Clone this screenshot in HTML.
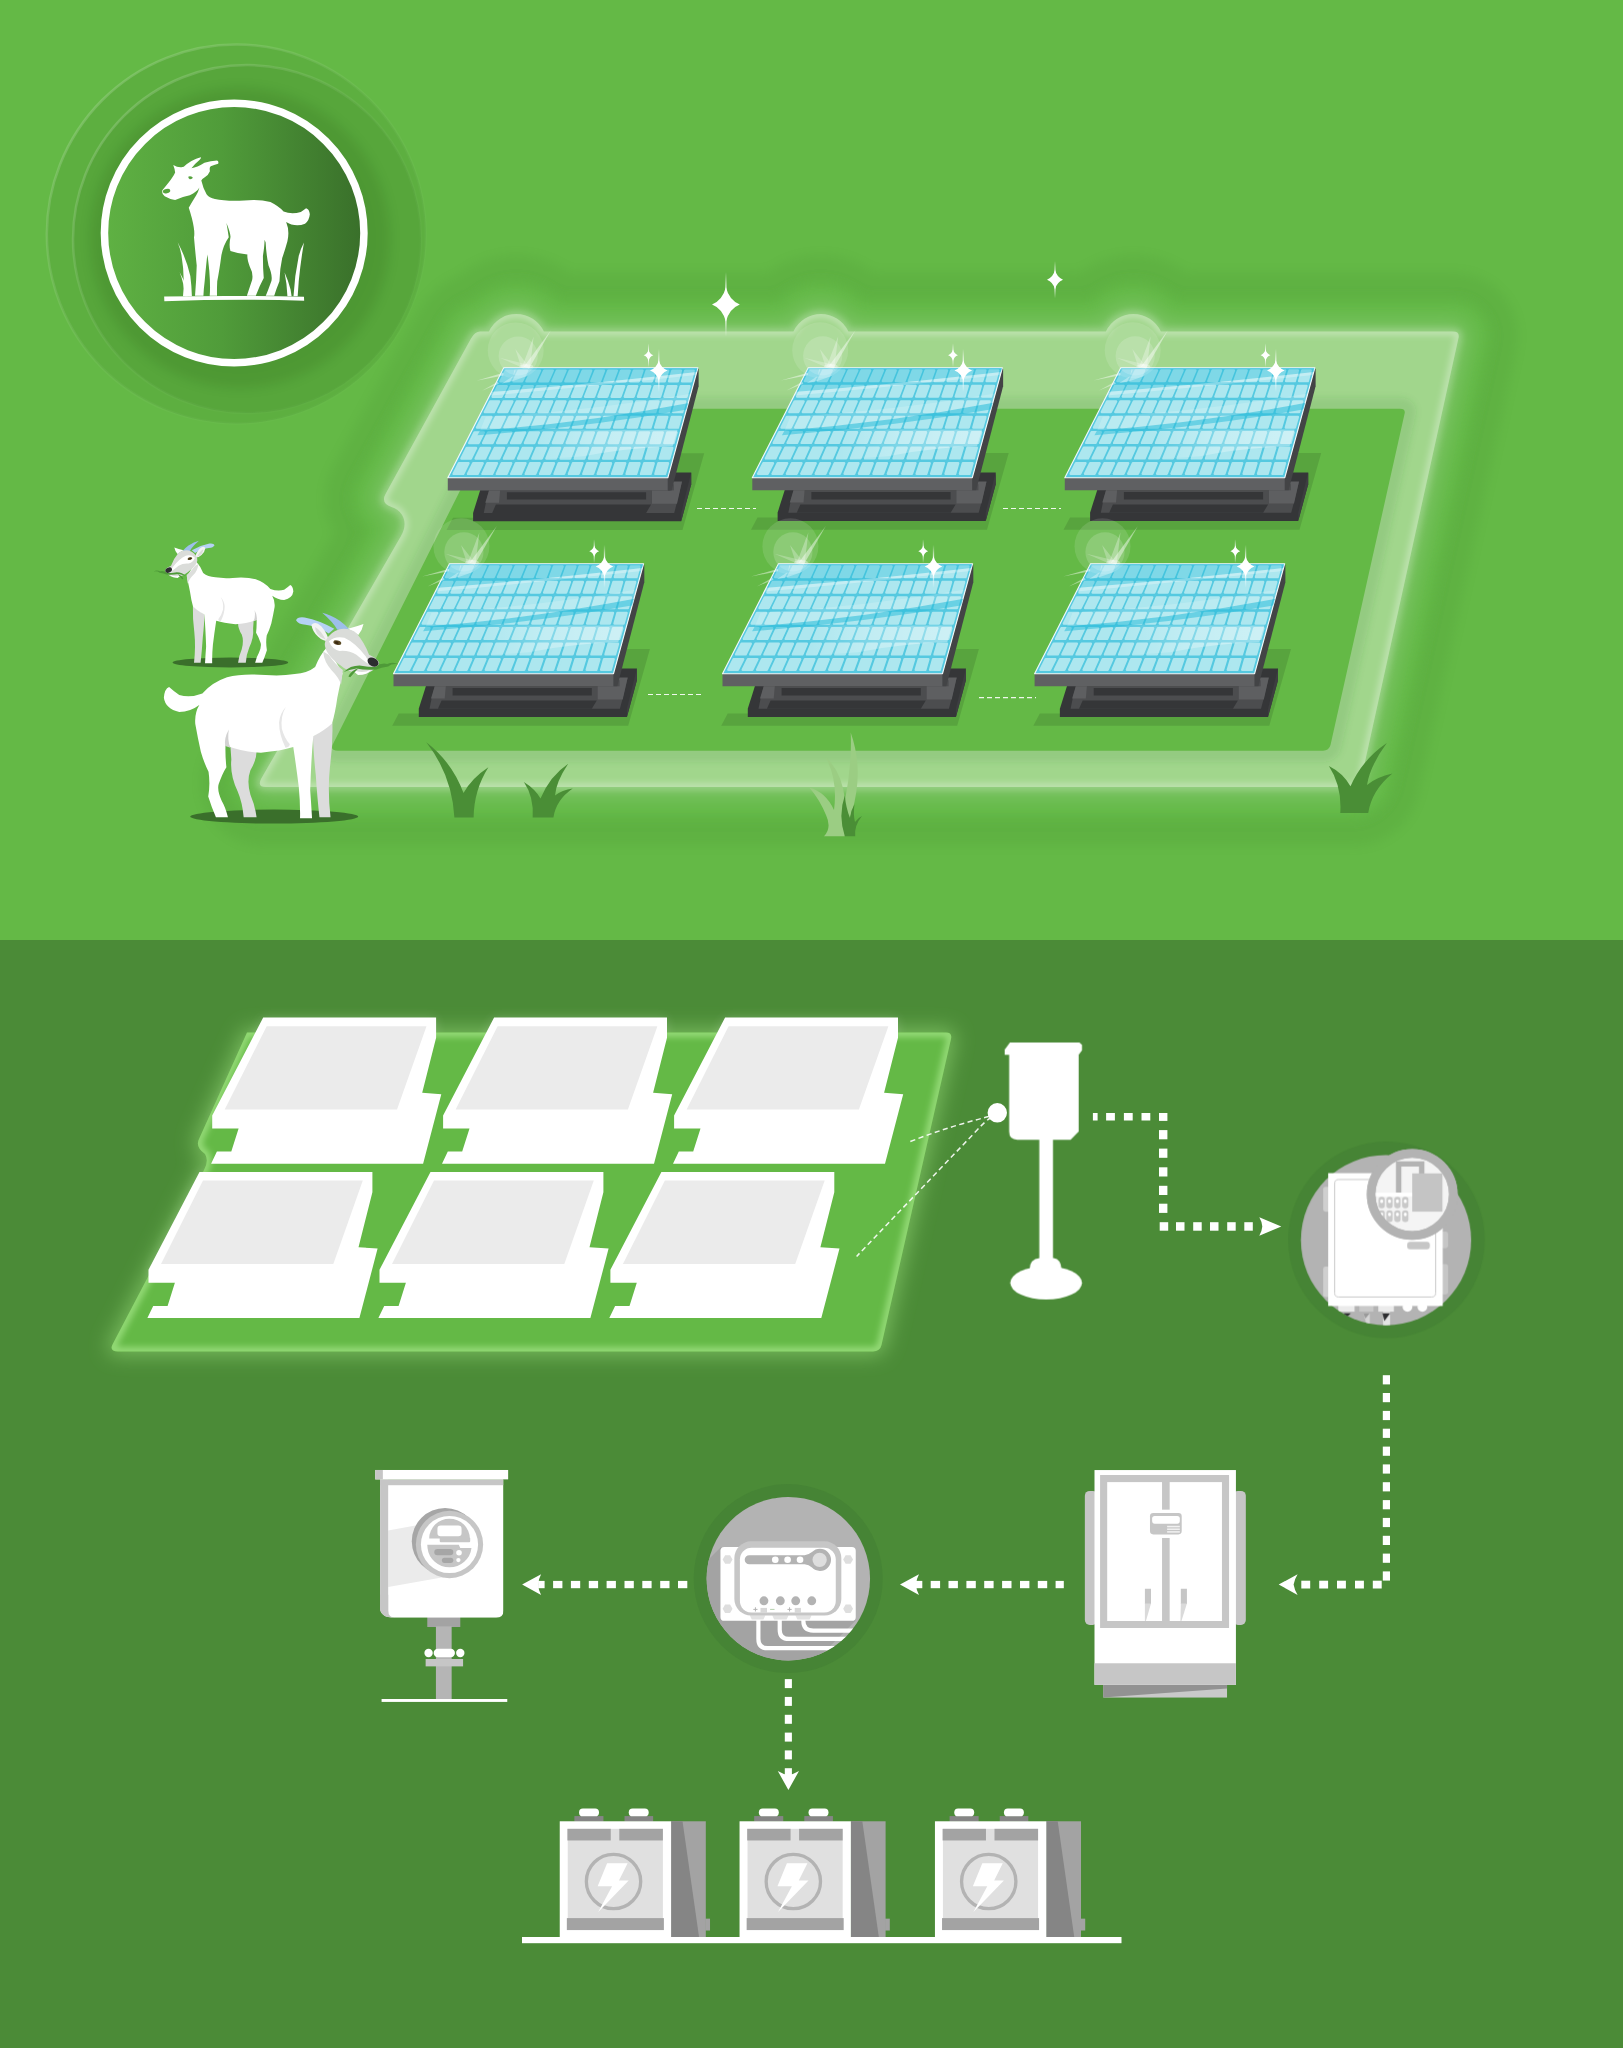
<!DOCTYPE html>
<html><head><meta charset="utf-8"><title>Solar grazing diagram</title>
<style>
html,body{margin:0;padding:0;background:#4b8b37;font-family:"Liberation Sans",sans-serif;}
svg{display:block}
</style></head><body>
<svg width="1623" height="2048" viewBox="0 0 1623 2048">
<defs>
<filter id="b3" x="-20%" y="-20%" width="140%" height="140%"><feGaussianBlur stdDeviation="3"/></filter>
<filter id="b6" x="-20%" y="-20%" width="140%" height="140%"><feGaussianBlur stdDeviation="6"/></filter>
<filter id="b10" x="-20%" y="-20%" width="140%" height="140%"><feGaussianBlur stdDeviation="10"/></filter>
<filter id="b18" x="-20%" y="-20%" width="140%" height="140%"><feGaussianBlur stdDeviation="18"/></filter>
<filter id="b1" x="-20%" y="-20%" width="140%" height="140%"><feGaussianBlur stdDeviation="1"/></filter>
</defs>
<rect x="0" y="0" width="1623" height="940" fill="#64b946"/>
<rect x="0" y="940" width="1623" height="1108" fill="#4b8b37"/>

<defs>
<linearGradient id="phl2" gradientUnits="userSpaceOnUse" x1="29.9" y1="0" x2="173.8" y2="0"><stop offset="0" stop-color="#fff" stop-opacity="0"/><stop offset="0.45" stop-color="#fff" stop-opacity="0.26"/><stop offset="1" stop-color="#fff" stop-opacity="0.4"/></linearGradient>
<radialGradient id="phl"><stop offset="0" stop-color="#fff" stop-opacity="0.5"/><stop offset="0.6" stop-color="#fff" stop-opacity="0.22"/><stop offset="1" stop-color="#fff" stop-opacity="0"/></radialGradient>
<g id="panel">
<polygon points="-57.3,162.1 178.7,162.1 200.4,85.4 166.7,85.4 166.7,149.9 -50.8,149.9" fill="#000" opacity="0.115"/>
<polygon points="-30.7,153.4 177.4,153.4 187.4,116.5 187.4,104.8 -18.1,104.8 -30.7,145.1" fill="#353638"/>
<polygon points="177.4,153.4 187.4,116.5 187.4,104.8 177.4,145.1" fill="#3d3e40"/>
<polygon points="-14.8,122.6 166.7,122.6 178.2,113.7 172.6,136.8 170.4,145.1 -20.0,145.1 -18.1,135.9" fill="#4c4d4f"/>
<polygon points="-7.9,136.8 147.3,136.8 142.3,145.1 -11.6,145.1" fill="#353638"/>
<polygon points="3.1,124.4 142.3,124.4 142.3,131.8 3.1,131.8" fill="#353638"/>
<polygon points="-14.8,122.6 -3.7,122.6 -4.8,134.9 -18.5,134.9" fill="#5e5f61"/>
<polygon points="148.2,122.6 166.7,122.6 166.7,113.7 178.2,113.7 173.2,135.9 148.2,135.9" fill="#5e5f61"/>
<polygon points="166.7,122.6 170.1,122.6 170.1,116.5 166.7,116.5" fill="#4c4d4f"/>
<polygon points="194.1,0.0 194.8,1.3 194.8,18.5 167.8,122.6 164.0,122.6 164.0,110.0" fill="#434446"/>
<polygon points="-56.0,110.0 164.0,110.0 164.0,122.6 -56.0,122.6" fill="#5f6062"/>
<polygon points="0.0,0.0 194.1,0.0 164.0,110.0 -56.0,110.0" fill="#55c9e0" stroke="#f2f8fa" stroke-width="1.15" stroke-linejoin="round"/>
<path d="M2.0,2.8 L10.5,2.8 L5.3,13.4 L-3.4,13.4Z M14.8,2.8 L23.4,2.8 L18.3,13.4 L9.6,13.4Z M27.6,2.8 L36.2,2.8 L31.3,13.4 L22.6,13.4Z M40.4,2.8 L49.0,2.8 L44.2,13.4 L35.6,13.4Z M53.2,2.8 L61.8,2.8 L57.2,13.4 L48.5,13.4Z M66.1,2.8 L74.6,2.8 L70.2,13.4 L61.5,13.4Z M78.9,2.8 L87.4,2.8 L83.2,13.4 L74.5,13.4Z M91.7,2.8 L100.2,2.8 L96.2,13.4 L87.5,13.4Z M104.5,2.8 L113.1,2.8 L109.1,13.4 L100.5,13.4Z M117.3,2.8 L125.9,2.8 L122.1,13.4 L113.4,13.4Z M130.1,2.8 L138.7,2.8 L135.1,13.4 L126.4,13.4Z M142.9,2.8 L151.5,2.8 L148.1,13.4 L139.4,13.4Z M155.8,2.8 L164.3,2.8 L161.0,13.4 L152.4,13.4Z M168.6,2.8 L177.1,2.8 L174.0,13.4 L165.3,13.4Z M181.4,2.8 L189.9,2.8 L187.0,13.4 L178.3,13.4Z M-5.8,18.3 L2.9,18.3 L-2.3,28.9 L-11.2,28.9Z M7.2,18.3 L16.0,18.3 L10.9,28.9 L2.0,28.9Z M20.3,18.3 L29.0,18.3 L24.1,28.9 L15.3,28.9Z M33.3,18.3 L42.1,18.3 L37.3,28.9 L28.5,28.9Z M46.4,18.3 L55.1,18.3 L50.5,28.9 L41.7,28.9Z M59.4,18.3 L68.2,18.3 L63.7,28.9 L54.9,28.9Z M72.5,18.3 L81.2,18.3 L77.0,28.9 L68.1,28.9Z M85.5,18.3 L94.3,18.3 L90.2,28.9 L81.3,28.9Z M98.6,18.3 L107.3,18.3 L103.4,28.9 L94.6,28.9Z M111.7,18.3 L120.4,18.3 L116.6,28.9 L107.8,28.9Z M124.7,18.3 L133.4,18.3 L129.8,28.9 L121.0,28.9Z M137.8,18.3 L146.5,18.3 L143.1,28.9 L134.2,28.9Z M150.8,18.3 L159.5,18.3 L156.3,28.9 L147.4,28.9Z M163.9,18.3 L172.6,18.3 L169.5,28.9 L160.6,28.9Z M176.9,18.3 L185.7,18.3 L182.7,28.9 L173.9,28.9Z M-13.6,33.7 L-4.7,33.7 L-10.0,44.3 L-19.0,44.3Z M-0.3,33.7 L8.6,33.7 L3.5,44.3 L-5.5,44.3Z M13.0,33.7 L21.8,33.7 L16.9,44.3 L7.9,44.3Z M26.2,33.7 L35.1,33.7 L30.4,44.3 L21.4,44.3Z M39.5,33.7 L48.4,33.7 L43.8,44.3 L34.8,44.3Z M52.8,33.7 L61.7,33.7 L57.3,44.3 L48.3,44.3Z M66.1,33.7 L75.0,33.7 L70.8,44.3 L61.8,44.3Z M79.4,33.7 L88.3,33.7 L84.2,44.3 L75.2,44.3Z M92.7,33.7 L101.6,33.7 L97.7,44.3 L88.7,44.3Z M106.0,33.7 L114.9,33.7 L111.1,44.3 L102.1,44.3Z M119.3,33.7 L128.2,33.7 L124.6,44.3 L115.6,44.3Z M132.6,33.7 L141.5,33.7 L138.0,44.3 L129.0,44.3Z M145.9,33.7 L154.8,33.7 L151.5,44.3 L142.5,44.3Z M159.2,33.7 L168.1,33.7 L165.0,44.3 L156.0,44.3Z M172.5,33.7 L181.4,33.7 L178.4,44.3 L169.4,44.3Z M-21.4,49.2 L-12.4,49.2 L-17.6,59.8 L-26.8,59.8Z M-7.9,49.2 L1.1,49.2 L-3.9,59.8 L-13.1,59.8Z M5.6,49.2 L14.7,49.2 L9.8,59.8 L0.6,59.8Z M19.2,49.2 L28.2,49.2 L23.5,59.8 L14.3,59.8Z M32.7,49.2 L41.7,49.2 L37.2,59.8 L28.0,59.8Z M46.2,49.2 L55.3,49.2 L50.8,59.8 L41.7,59.8Z M59.8,49.2 L68.8,49.2 L64.5,59.8 L55.4,59.8Z M73.3,49.2 L82.3,49.2 L78.2,59.8 L69.1,59.8Z M86.8,49.2 L95.9,49.2 L91.9,59.8 L82.8,59.8Z M100.4,49.2 L109.4,49.2 L105.6,59.8 L96.5,59.8Z M113.9,49.2 L122.9,49.2 L119.3,59.8 L110.2,59.8Z M127.4,49.2 L136.5,49.2 L133.0,59.8 L123.9,59.8Z M140.9,49.2 L150.0,49.2 L146.7,59.8 L137.6,59.8Z M154.5,49.2 L163.5,49.2 L160.4,59.8 L151.3,59.8Z M168.0,49.2 L177.1,49.2 L174.1,59.8 L165.0,59.8Z M-29.2,64.6 L-20.0,64.6 L-25.3,75.2 L-34.6,75.2Z M-15.5,64.6 L-6.3,64.6 L-11.3,75.2 L-20.7,75.2Z M-1.7,64.6 L7.5,64.6 L2.6,75.2 L-6.7,75.2Z M12.1,64.6 L21.3,64.6 L16.5,75.2 L7.2,75.2Z M25.8,64.6 L35.1,64.6 L30.5,75.2 L21.1,75.2Z M39.6,64.6 L48.8,64.6 L44.4,75.2 L35.1,75.2Z M53.4,64.6 L62.6,64.6 L58.3,75.2 L49.0,75.2Z M67.2,64.6 L76.4,64.6 L72.3,75.2 L62.9,75.2Z M80.9,64.6 L90.1,64.6 L86.2,75.2 L76.9,75.2Z M94.7,64.6 L103.9,64.6 L100.1,75.2 L90.8,75.2Z M108.5,64.6 L117.7,64.6 L114.1,75.2 L104.8,75.2Z M122.2,64.6 L131.4,64.6 L128.0,75.2 L118.7,75.2Z M136.0,64.6 L145.2,64.6 L141.9,75.2 L132.6,75.2Z M149.8,64.6 L159.0,64.6 L155.9,75.2 L146.6,75.2Z M163.6,64.6 L172.8,64.6 L169.8,75.2 L160.5,75.2Z M-37.0,80.1 L-27.7,80.1 L-32.9,90.7 L-42.4,90.7Z M-23.0,80.1 L-13.7,80.1 L-18.7,90.7 L-28.2,90.7Z M-9.0,80.1 L0.3,80.1 L-4.6,90.7 L-14.1,90.7Z M5.0,80.1 L14.4,80.1 L9.6,90.7 L0.1,90.7Z M19.0,80.1 L28.4,80.1 L23.8,90.7 L14.3,90.7Z M33.0,80.1 L42.4,80.1 L37.9,90.7 L28.5,90.7Z M47.0,80.1 L56.4,80.1 L52.1,90.7 L42.6,90.7Z M61.0,80.1 L70.4,80.1 L66.3,90.7 L56.8,90.7Z M75.0,80.1 L84.4,80.1 L80.5,90.7 L71.0,90.7Z M89.0,80.1 L98.4,80.1 L94.6,90.7 L85.2,90.7Z M103.1,80.1 L112.4,80.1 L108.8,90.7 L99.3,90.7Z M117.1,80.1 L126.4,80.1 L123.0,90.7 L113.5,90.7Z M131.1,80.1 L140.4,80.1 L137.2,90.7 L127.7,90.7Z M145.1,80.1 L154.5,80.1 L151.3,90.7 L141.9,90.7Z M159.1,80.1 L168.5,80.1 L165.5,90.7 L156.0,90.7Z M-44.9,95.5 L-35.3,95.5 L-40.6,106.1 L-50.2,106.1Z M-30.6,95.5 L-21.1,95.5 L-26.2,106.1 L-35.8,106.1Z M-16.4,95.5 L-6.8,95.5 L-11.7,106.1 L-21.4,106.1Z M-2.1,95.5 L7.4,95.5 L2.7,106.1 L-7.0,106.1Z M12.1,95.5 L21.7,95.5 L17.1,106.1 L7.4,106.1Z M26.4,95.5 L35.9,95.5 L31.5,106.1 L21.9,106.1Z M40.6,95.5 L50.2,95.5 L45.9,106.1 L36.3,106.1Z M54.9,95.5 L64.4,95.5 L60.3,106.1 L50.7,106.1Z M69.1,95.5 L78.7,95.5 L74.7,106.1 L65.1,106.1Z M83.4,95.5 L92.9,95.5 L89.2,106.1 L79.5,106.1Z M97.6,95.5 L107.2,95.5 L103.6,106.1 L93.9,106.1Z M111.9,95.5 L121.4,95.5 L118.0,106.1 L108.3,106.1Z M126.1,95.5 L135.7,95.5 L132.4,106.1 L122.8,106.1Z M140.4,95.5 L149.9,95.5 L146.8,106.1 L137.2,106.1Z M154.6,95.5 L164.2,95.5 L161.2,106.1 L151.6,106.1Z" fill="#ade7ef" stroke="#ade7ef" stroke-width="2.4" stroke-linejoin="round"/>
<clipPath id="pclip"><polygon points="0.0,0.0 194.1,0.0 164.0,110.0 -56.0,110.0"/></clipPath>
<g clip-path="url(#pclip)">
<path d="M0.0,0.0 L194.1,0.0 L193.0,4.3 Q74.3,17.6 -11.6,24.0 Z" fill="#25bcd9" opacity="0.34"/>
<path d="M-11.6,24.0 Q74.3,17.6 193.0,4.3 L192.2,7.2 Q74.3,19.8 -13.5,27.7 Z" fill="#ffffff" opacity="0.28"/>
<path d="M-23.7,62.8 Q83.5,54.5 185.2,35.1 L183.7,41.6 Q83.5,59.1 -26.4,67.5 Z" fill="#25bcd9" opacity="0.5"/>
<path d="M-18.1,49.0 Q83.5,43.4 187.1,25.9 L185.2,35.1 Q83.5,54.5 -23.7,62.8 Z" fill="#ffffff" opacity="0.16"/>
<path d="M29.9,61.9 L173.8,61.9 L168.8,78.4 Q121.1,80.2 79.5,88.5 L29.9,91.9 Z" fill="url(#phl2)"/>
<polygon points="10.8,1.4 27.2,1.4 23.5,8.2 9.3,13.2 -1.8,15.6 9.3,8.2" fill="#fff" opacity="0.33"/>
</g>
</g>
</defs>
<defs>
<path id="fOuter" d="M480,331.5 L488.9,331.5 A30.3,30.3 0 0 1 543.9,331.5 L793.4,331.5 A30.3,30.3 0 0 1 848.4,331.5 L1105.9,331.5 A30.3,30.3 0 0 1 1160.9,331.5 L1453,331.5 Q1460,331.5 1458.5,338 L1361,780 Q1359.5,787 1352,787 L266,787 Q257,787 261,779 L401,536 Q406.5,526 403.5,518 Q400.5,510 391.5,507 Q380.5,503 385.5,494 L471,338.5 Q475,331.5 480,331.5 Z"/>
<path id="fInner" d="M506,408.7 L1400,408.7 Q1406,408.7 1404.5,414 L1330.5,745 Q1329,750.7 1323,750.7 L338,750.7 Q329,750.7 333.5,743 L499,413 Q501.5,408.7 506,408.7 Z"/>
<clipPath id="fOuterClip"><use href="#fOuter"/></clipPath>
</defs>
<g id="field-halo">
  <use href="#fOuter" fill="#2c6a1e" stroke="#2c6a1e" stroke-width="118" stroke-linejoin="round" opacity="0.085" filter="url(#b6)"/>
  <use href="#fOuter" fill="#64b946" stroke="#64b946" stroke-width="62" stroke-linejoin="round" filter="url(#b6)"/>
</g>

<defs>
<linearGradient id="badgeG" x1="0" x2="1" y1="0" y2="0"><stop offset="0" stop-color="#5fb143"/><stop offset="0.45" stop-color="#509c3a"/><stop offset="1" stop-color="#396f2a"/></linearGradient>
<linearGradient id="ringHi" x1="0" y1="0" x2="1" y2="1"><stop offset="0" stop-color="#fff" stop-opacity="0.22"/><stop offset="0.5" stop-color="#fff" stop-opacity="0.04"/><stop offset="1" stop-color="#fff" stop-opacity="0.0"/></linearGradient>
</defs>
<g id="badge">
  <circle cx="236.3" cy="234" r="189.5" fill="#0b3a05" fill-opacity="0.075" stroke="url(#ringHi)" stroke-width="2.5"/>
  <circle cx="247" cy="239" r="174" fill="#0b3a05" fill-opacity="0.075" stroke="url(#ringHi)" stroke-width="2.5"/>
  <circle cx="240" cy="238" r="150" fill="#0b3a05" opacity="0.12" filter="url(#b6)"/>
  <circle cx="234.2" cy="233" r="129.75" fill="url(#badgeG)" stroke="#fff" stroke-width="7.5"/>
  <g transform="translate(150,145) scale(0.10474)" fill="#fff">
    <path d="M222,190 Q262,215 300,212 L322,208 Q395,140 485,117 Q492,124 470,145 Q420,185 396,222 Q450,215 520,170 Q580,150 640,148 Q660,158 650,180 Q610,195 580,202 Q565,210 572,250 Q560,285 520,310 Q495,325 490,340 Q505,410 540,470 Q565,505 620,515 Q720,538 900,530 Q1040,516 1150,545 Q1230,585 1275,635 Q1350,665 1440,640 Q1470,620 1490,603 Q1520,610 1526,660 Q1520,720 1480,752 Q1420,778 1350,760 Q1320,748 1300,735 Q1335,820 1312,920 Q1290,1000 1262,1080 Q1240,1180 1236,1300 Q1205,1375 1186,1440 L1105,1440 Q1128,1385 1160,1295 Q1170,1240 1132,1150 Q1110,1050 1104,930 L1094,905 Q1094,960 1078,1060 Q1078,1180 1086,1270 Q1045,1345 1010,1440 L925,1440 Q945,1380 975,1290 Q988,1225 952,1160 Q925,1085 930,1046 Q850,1040 768,1012 Q752,960 768,880 Q772,850 730,745 Q740,800 752,880 Q700,955 682,1050 Q662,1200 642,1300 Q638,1380 640,1440 L570,1440 Q578,1350 566,1200 Q556,1100 548,1045 Q540,1100 522,1300 Q512,1380 510,1440 L430,1440 Q442,1300 446,1150 Q430,1000 420,880 Q432,830 400,700 Q384,640 370,600 Q400,545 440,482 Q462,445 472,405 Q450,445 380,480 Q300,496 240,525 Q190,520 140,490 Q108,462 118,432 Q150,395 200,330 Q232,285 240,262 Q236,225 222,190 Z"/>
    <ellipse cx="158" cy="440" rx="36" ry="21" transform="rotate(-14 158 440)" fill="#57a53e"/>
    <path d="M365,302 Q390,294 410,312 Q400,328 380,326 Q366,318 365,302 Z" fill="#55a23d"/>
    <path d="M135,1447 Q800,1434 1470,1450 L1472,1486 Q800,1468 137,1492 Z"/>
    <path d="M315,1445 Q335,1250 300,1050 Q288,985 265,930 Q345,1080 385,1250 Q398,1350 400,1445 Z"/>
    <path d="M330,1445 Q330,1330 283,1215 Q330,1290 352,1380 L360,1445 Z"/>
    <path d="M1370,1445 Q1380,1250 1420,1060 Q1440,985 1470,930 Q1440,1100 1420,1300 L1410,1445 Z"/>
    <path d="M1312,1445 Q1308,1330 1285,1218 Q1322,1300 1342,1380 L1352,1445 Z"/>
  </g>
</g>


<g id="field-top">
  <!-- wide faint halo -->
  <use href="#fOuter" fill="#ffffff" opacity="0.16" filter="url(#b10)" stroke="#fff" stroke-width="22"/>
  <!-- closer glow -->
  <use href="#fOuter" fill="#ffffff" opacity="0.22" filter="url(#b3)" stroke="#fff" stroke-width="7"/>
  <!-- band -->
  <use href="#fOuter" fill="#a1d68c"/>
  <g clip-path="url(#fOuterClip)">
    <use href="#fOuter" fill="none" stroke="#ffffff" stroke-opacity="0.35" stroke-width="7" filter="url(#b3)"/>
  </g>
  <g clip-path="url(#fOuterClip)"><use href="#fInner" fill="none" stroke="#3d7f3a" stroke-opacity="0.12" stroke-width="22" filter="url(#b3)"/></g>
  <use href="#fInner" fill="#64b946"/>
</g>

<g id="panels">
  <!-- dashed connectors -->
  <g stroke="#fff" stroke-width="1.2" stroke-dasharray="5 3" fill="none" opacity="0.9">
    <path d="M697,508.5 H756"/><path d="M1003,508.5 H1061"/>
    <path d="M648,694.5 H702"/><path d="M979,697.6 H1036"/>
  </g>
  <use href="#panel" x="503.8" y="367.8"/>
  <use href="#panel" x="808.3" y="367.7"/>
  <use href="#panel" x="1120.8" y="367.7"/>
  <use href="#panel" x="449.5" y="563.7"/>
  <use href="#panel" x="778.5" y="563.7"/>
  <use href="#panel" x="1090.6" y="563.7"/>
</g>

<defs>
<linearGradient id="spLine" x1="0" y1="0" x2="0" y2="1"><stop offset="0" stop-color="#fff" stop-opacity="0"/><stop offset="0.3" stop-color="#fff" stop-opacity="0.85"/><stop offset="0.7" stop-color="#fff" stop-opacity="0.85"/><stop offset="1" stop-color="#fff" stop-opacity="0"/></linearGradient>
<linearGradient id="rayG" x1="0" y1="0" x2="1" y2="0"><stop offset="0" stop-color="#fff" stop-opacity="0.5"/><stop offset="1" stop-color="#fff" stop-opacity="0.12"/></linearGradient>
<g id="flare">
  <circle cx="-10.6" cy="-17" r="28" fill="#fff" opacity="0.12"/>
  <circle cx="-8.1" cy="-11.4" r="19.6" fill="#fff" opacity="0.16"/>
  <g fill="#fff">
    <path d="M-2.6,-0.4 L24.8,-37.3 L2.8,1.2 Z" opacity="0.45"/>
    <path d="M-4.2,-0.6 L7.4,-31 L3.6,0.4 Z" opacity="0.3"/>
    <path d="M-5,0 L-11,-18.4 L2.4,-1 Z" opacity="0.26"/>
    <path d="M-3,0.6 L-26.6,-9.6 L1,-3 Z" opacity="0.24"/>
    <path d="M-23,5.4 L-49.9,13.3 L-23,8 Z" opacity="0.45"/>
    <path d="M-28.5,14.4 L-44.3,23.3 L-27.5,16.4 Z" opacity="0.4"/>
    <ellipse cx="0" cy="-1" rx="7" ry="2.2" opacity="0.35"/>
  </g>
</g>
</defs>
<g id="flares">
<use href="#flare" x="526.3" y="367.4"/>
<use href="#flare" x="830.8" y="367.3"/>
<use href="#flare" x="1143.3" y="367.3"/>
<use href="#flare" x="472.0" y="563.3"/>
<use href="#flare" x="801.0" y="563.3"/>
<use href="#flare" x="1113.1" y="563.3"/>
</g><g id="sparkles">
<g transform="translate(658.8,370.5)"><rect x="-0.65" y="-21.5" width="1.30" height="43.0" fill="url(#spLine)"/><path d="M0,-10.20 Q2.11,-2.45 8.80,0 Q2.11,2.45 0,10.20 Q-2.11,2.45 -8.80,0 Q-2.11,-2.45 0,-10.20 Z" fill="#fff"/></g>
<g transform="translate(648.5,355.3)"><rect x="-0.50" y="-11.9" width="1.00" height="23.8" fill="url(#spLine)"/><path d="M0,-5.60 Q1.18,-1.34 4.90,0 Q1.18,1.34 0,5.60 Q-1.18,1.34 -4.90,0 Q-1.18,-1.34 0,-5.60 Z" fill="#fff"/></g>
<g transform="translate(963.3,370.4)"><rect x="-0.65" y="-21.5" width="1.30" height="43.0" fill="url(#spLine)"/><path d="M0,-10.20 Q2.11,-2.45 8.80,0 Q2.11,2.45 0,10.20 Q-2.11,2.45 -8.80,0 Q-2.11,-2.45 0,-10.20 Z" fill="#fff"/></g>
<g transform="translate(953.0,355.2)"><rect x="-0.50" y="-11.9" width="1.00" height="23.8" fill="url(#spLine)"/><path d="M0,-5.60 Q1.18,-1.34 4.90,0 Q1.18,1.34 0,5.60 Q-1.18,1.34 -4.90,0 Q-1.18,-1.34 0,-5.60 Z" fill="#fff"/></g>
<g transform="translate(1275.8,370.4)"><rect x="-0.65" y="-21.5" width="1.30" height="43.0" fill="url(#spLine)"/><path d="M0,-10.20 Q2.11,-2.45 8.80,0 Q2.11,2.45 0,10.20 Q-2.11,2.45 -8.80,0 Q-2.11,-2.45 0,-10.20 Z" fill="#fff"/></g>
<g transform="translate(1265.5,355.2)"><rect x="-0.50" y="-11.9" width="1.00" height="23.8" fill="url(#spLine)"/><path d="M0,-5.60 Q1.18,-1.34 4.90,0 Q1.18,1.34 0,5.60 Q-1.18,1.34 -4.90,0 Q-1.18,-1.34 0,-5.60 Z" fill="#fff"/></g>
<g transform="translate(604.5,566.4)"><rect x="-0.65" y="-21.5" width="1.30" height="43.0" fill="url(#spLine)"/><path d="M0,-10.20 Q2.11,-2.45 8.80,0 Q2.11,2.45 0,10.20 Q-2.11,2.45 -8.80,0 Q-2.11,-2.45 0,-10.20 Z" fill="#fff"/></g>
<g transform="translate(594.2,551.2)"><rect x="-0.50" y="-11.9" width="1.00" height="23.8" fill="url(#spLine)"/><path d="M0,-5.60 Q1.18,-1.34 4.90,0 Q1.18,1.34 0,5.60 Q-1.18,1.34 -4.90,0 Q-1.18,-1.34 0,-5.60 Z" fill="#fff"/></g>
<g transform="translate(933.5,566.4)"><rect x="-0.65" y="-21.5" width="1.30" height="43.0" fill="url(#spLine)"/><path d="M0,-10.20 Q2.11,-2.45 8.80,0 Q2.11,2.45 0,10.20 Q-2.11,2.45 -8.80,0 Q-2.11,-2.45 0,-10.20 Z" fill="#fff"/></g>
<g transform="translate(923.2,551.2)"><rect x="-0.50" y="-11.9" width="1.00" height="23.8" fill="url(#spLine)"/><path d="M0,-5.60 Q1.18,-1.34 4.90,0 Q1.18,1.34 0,5.60 Q-1.18,1.34 -4.90,0 Q-1.18,-1.34 0,-5.60 Z" fill="#fff"/></g>
<g transform="translate(1245.6,566.4)"><rect x="-0.65" y="-21.5" width="1.30" height="43.0" fill="url(#spLine)"/><path d="M0,-10.20 Q2.11,-2.45 8.80,0 Q2.11,2.45 0,10.20 Q-2.11,2.45 -8.80,0 Q-2.11,-2.45 0,-10.20 Z" fill="#fff"/></g>
<g transform="translate(1235.3,551.2)"><rect x="-0.50" y="-11.9" width="1.00" height="23.8" fill="url(#spLine)"/><path d="M0,-5.60 Q1.18,-1.34 4.90,0 Q1.18,1.34 0,5.60 Q-1.18,1.34 -4.90,0 Q-1.18,-1.34 0,-5.60 Z" fill="#fff"/></g>
<g transform="translate(725.9,304.4)"><rect x="-0.80" y="-32.3" width="1.60" height="64.6" fill="url(#spLine)"/><path d="M0,-17.20 Q3.34,-4.13 13.90,0 Q3.34,4.13 0,17.20 Q-3.34,4.13 -13.90,0 Q-3.34,-4.13 0,-17.20 Z" fill="#fff"/></g>
<g transform="translate(1055.0,279.7)"><rect x="-0.65" y="-18.6" width="1.30" height="37.2" fill="url(#spLine)"/><path d="M0,-9.60 Q1.92,-2.30 8.00,0 Q1.92,2.30 0,9.60 Q-1.92,2.30 -8.00,0 Q-1.92,-2.30 0,-9.60 Z" fill="#fff"/></g>
</g>
<defs>
<g id="goatArt">
  <!-- far legs -->
  <path d="M522,1015 L692,1040 Q694,1100 652,1170 Q626,1240 652,1330 Q682,1400 692,1476 L608,1476 Q600,1380 570,1310 Q518,1200 528,1100 Z" fill="#dcdcdc"/>
  <path d="M1058,950 L1184,862 Q1188,1000 1168,1150 Q1152,1300 1172,1476 L1100,1476 Q1086,1350 1076,1200 Q1060,1050 1058,950 Z" fill="#dcdcdc"/>
  <!-- horns -->
  <path d="M948,196 Q956,172 1004,178 Q1100,196 1196,252 L1160,282 Q1080,232 1010,226 Q962,222 948,196 Z" fill="#b5d2f5"/>
  <path d="M1118,148 Q1172,160 1232,200 Q1272,230 1296,258 L1216,258 Q1190,210 1118,148 Z" fill="#9dbfe9"/>
  <!-- body -->
  <path d="M340,672 Q262,702 190,682 Q150,654 124,630 Q94,642 90,700 Q100,772 190,792 Q262,790 320,746 Q288,800 294,870 Q310,960 330,1050 Q350,1120 380,1180 Q392,1260 378,1340 Q400,1410 428,1476 L506,1476 Q490,1410 466,1370 Q434,1300 446,1260 Q470,1190 496,1150 Q488,1080 490,1008 Q600,1052 720,1056 Q850,1046 930,1020 Q950,1150 966,1280 Q976,1380 974,1482 L1052,1482 Q1046,1380 1040,1300 Q1046,1100 1060,950 Q1140,905 1182,866 Q1202,800 1216,700 Q1236,600 1250,540 L1150,370 Q1104,420 1072,500 Q1022,540 940,546 Q850,560 750,552 Q600,540 500,566 Q400,600 340,672 Z" fill="#ffffff"/>
  <!-- shading -->
  <path d="M882,760 Q846,820 856,900 Q872,960 908,1002 Q904,1022 880,1024 Q838,940 838,860 Q844,800 882,760 Z" fill="#e6e6e6"/>
  <path d="M512,905 Q480,960 488,1012 L522,1024 Q500,970 512,905 Z" fill="#d2d2d2"/>
  <path d="M1124,400 Q1130,470 1180,522 Q1230,572 1240,616 L1252,520 Q1200,480 1160,420 Z" fill="#dcdedb"/>
  <!-- left ear -->
  <path d="M1048,226 Q1072,198 1112,236 Q1152,282 1162,334 Q1120,332 1090,302 Q1054,270 1048,226 Z" fill="#f3f3f3"/>
  <path d="M1072,240 Q1110,262 1140,322 Q1104,310 1086,286 Q1070,262 1072,240 Z" fill="#dadcd9"/>
  <!-- right ear -->
  <path d="M1286,252 Q1340,236 1386,220 Q1378,262 1352,292 Q1320,270 1286,252 Z" fill="#ffffff"/>
  <!-- head -->
  <path d="M1138,332 Q1170,270 1230,254 Q1300,244 1342,282 Q1392,340 1422,420 Q1472,440 1488,470 Q1482,502 1456,512 Q1440,532 1400,546 Q1350,552 1328,536 Q1270,520 1240,492 Q1180,452 1150,402 Q1128,362 1138,332 Z" fill="#dadcd9"/>
  <path d="M1162,332 Q1200,298 1262,310 Q1332,342 1400,430 Q1420,470 1440,492 Q1400,472 1340,420 Q1290,390 1230,396 Q1180,382 1162,332 Z" fill="#ffffff"/>
  <path d="M1322,520 Q1380,548 1436,516 Q1410,552 1350,552 Q1332,540 1322,520 Z" fill="#ffffff"/>
  <!-- eye -->
  <ellipse cx="1216" cy="342" rx="26" ry="14" transform="rotate(14 1216 342)" fill="#5a4a24"/>
  <ellipse cx="1212" cy="342" rx="12" ry="9" transform="rotate(14 1212 342)" fill="#3b2a12"/>
  <!-- nose -->
  <ellipse cx="1448" cy="468" rx="38" ry="27" transform="rotate(28 1448 468)" fill="#2d2d30"/>
  <!-- grass in mouth -->
  <path d="M1258,532 Q1300,490 1360,490 Q1420,500 1462,500 Q1500,470 1540,480 Q1580,462 1612,482 Q1570,476 1546,496 Q1500,502 1470,516 Q1400,522 1340,510 Q1290,520 1258,532 Z" fill="#4e9a38"/>
  <path d="M1288,562 Q1308,520 1352,510 Q1330,532 1300,566 Z" fill="#4e9a38"/>
</g>
</defs>
<g id="goats">
  <ellipse cx="230.4" cy="662.5" rx="57.8" ry="5" fill="#3a6f2b"/>
  <g transform="translate(301.6,527.2) scale(-0.09181,0.09181)"><use href="#goatArt"/></g>
  <ellipse cx="274.2" cy="816.6" rx="84" ry="7" fill="#3a6f2b"/>
  <g transform="translate(150,590) scale(0.15404)"><use href="#goatArt"/></g>
</g>

<g id="grass" fill="#4a8e36">
  <!-- tuft A -->
  <path d="M454.4,817.6 Q452,775 426.3,742.2 Q452,762 463.5,793 Q472,778 488.4,767.3 Q474,790 473.6,817.6 Z"/>
  <!-- tuft B -->
  <path d="M532.7,817.6 Q534,797 523.9,782.1 Q535,789 540.5,798.5 Q550,776 568.2,763.8 Q556,782 555,795.5 Q562,790 572.7,788.6 Q556,800 553.4,817.6 Z"/>
  <!-- tuft C light -->
  <path d="M824,836.2 Q832,828 826,815 Q820,800 809.3,787.4 Q826,792 834,810 Q838,780 825.6,757 Q842,772 845,800 Q852,765 850.7,732.4 Q864,770 852,812 Q846,826 844.8,836.2 Z" fill="#9bcd83"/>
  <!-- tuft C small dark -->
  <path d="M844.8,836.2 Q838,815 844.8,795.4 Q846,808 850,818 Q851,810 854.5,804.3 Q853,815 855,822 Q858,818 861.9,816.1 Q854,826 855.2,836.2 Z"/>
  <!-- tuft D -->
  <path d="M1340.3,813 Q1342,786 1328.9,766 Q1343,773 1350.5,786.3 Q1362,760 1386.8,743.1 Q1370,766 1367,785 Q1377,777 1392.4,773.6 Q1372,790 1368.2,813 Z"/>
</g>

<defs><g id="bp"><polygon points="0.0,0.0 172.9,0.0 172.9,20.3 159.0,75.3 178.1,76.7 159.9,146.2 -52.1,146.2 -46.3,134.1 -31.9,134.1 -24.6,110.9 -51.0,110.9 -51.0,97.9" fill="#fff"/><polygon points="3.5,8.7 163.3,8.7 133.8,92.1 -38.5,92.1" fill="#ebebeb"/></g>
<g id="bpGlow"><polygon points="0.0,0.0 172.9,0.0 172.9,20.3 159.0,75.3 178.1,76.7 159.9,146.2 -52.1,146.2 -46.3,134.1 -31.9,134.1 -24.6,110.9 -51.0,110.9 -51.0,97.9" fill="#fff"/></g>
<path id="bField" d="M247,1032.6 L946,1032.6 Q952.5,1032.6 951,1039 L881.5,1345 Q880,1351.4 873,1351.4 L118,1351.4 Q108.5,1351.4 113,1343.5 L204,1170 Q209,1161 205,1154 Q195,1147 199,1139 L247,1032.6 Z"/>
<clipPath id="bFieldClip"><use href="#bField"/></clipPath>
</defs>
<g id="field-bottom">
<use href="#bField" fill="#9be07c" opacity="0.55" filter="url(#b10)" stroke="#9be07c" stroke-width="8"/>
<g opacity="0.16" filter="url(#b6)"><use href="#bpGlow" x="263.2" y="1017.5"/><use href="#bpGlow" x="494.1" y="1017.5"/><use href="#bpGlow" x="725.1" y="1017.5"/><use href="#bpGlow" x="199.5" y="1171.9"/></g>
<use href="#bField" fill="#64b946"/>
<g clip-path="url(#bFieldClip)"><use href="#bField" fill="none" stroke="#a6e688" stroke-opacity="0.75" stroke-width="9" filter="url(#b3)"/></g>
<use href="#bp" x="263.2" y="1017.5"/>
<use href="#bp" x="494.1" y="1017.5"/>
<use href="#bp" x="725.1" y="1017.5"/>
<use href="#bp" x="199.5" y="1171.9"/>
<use href="#bp" x="430.5" y="1171.9"/>
<use href="#bp" x="661.4" y="1171.9"/>
<g fill="none" stroke="#fff" stroke-width="1.5" stroke-dasharray="5.2 3.4" opacity="0.9"><path d="M989,1116.6 Q950,1126 909.3,1141.9"/><path d="M991,1117.5 Q984,1122 973,1134.4 L856.6,1256.4"/></g>
<circle cx="997.3" cy="1112.8" r="9.7" fill="#fff"/>
</g>
<g id="arrows" fill="#fff"><rect x="1092.9" y="1113.0" width="4.7" height="7.5"/><rect x="1106.1" y="1113.0" width="8.8" height="7.5"/><rect x="1123.9" y="1113.0" width="8.8" height="7.5"/><rect x="1141.5" y="1113.0" width="8.8" height="7.5"/><rect x="1159.0" y="1113.0" width="8.4" height="7.9"/><rect x="1159.0" y="1130.1" width="8.4" height="9.2"/><rect x="1159.0" y="1148.6" width="8.4" height="9.2"/><rect x="1159.0" y="1167.3" width="8.4" height="9.2"/><rect x="1159.0" y="1185.8" width="8.4" height="9.2"/><rect x="1159.0" y="1203.7" width="8.4" height="9.2"/><rect x="1159.7" y="1222.2" width="8.5" height="8.5"/><rect x="1176.0" y="1222.2" width="8.5" height="8.5"/><rect x="1193.2" y="1222.2" width="8.5" height="8.5"/><rect x="1210.0" y="1222.2" width="8.5" height="8.5"/><rect x="1227.2" y="1222.2" width="8.5" height="8.5"/><rect x="1244.3" y="1222.2" width="8.5" height="8.5"/>
<path d="M1281.3,1226.5 L1259.3,1235.7 Q1262.0,1231.1 1262.3,1226.5 Q1262.0,1221.9 1259.3,1217.3 Z"/>
<rect x="1382.8" y="1375.2" width="7.2" height="9.2"/><rect x="1382.8" y="1393.0" width="7.2" height="9.2"/><rect x="1382.8" y="1410.9" width="7.2" height="9.2"/><rect x="1382.8" y="1428.7" width="7.2" height="9.2"/><rect x="1382.8" y="1446.6" width="7.2" height="9.2"/><rect x="1382.8" y="1464.4" width="7.2" height="9.2"/><rect x="1382.8" y="1482.2" width="7.2" height="9.2"/><rect x="1382.8" y="1500.1" width="7.2" height="9.2"/><rect x="1382.8" y="1517.9" width="7.2" height="9.2"/><rect x="1382.8" y="1535.8" width="7.2" height="9.2"/><rect x="1382.8" y="1553.6" width="7.2" height="9.2"/><rect x="1382.8" y="1571.4" width="7.2" height="9.2"/><rect x="1372.8" y="1580.7" width="8.9" height="7.8"/><rect x="1355.0" y="1580.7" width="8.9" height="7.8"/><rect x="1337.0" y="1580.7" width="8.9" height="7.8"/><rect x="1319.2" y="1580.7" width="8.9" height="7.8"/><rect x="1301.3" y="1580.7" width="8.9" height="7.8"/>
<path d="M1278.7,1584.6 L1297.6,1574.2 Q1294.4,1579.4 1293.6,1584.6 Q1294.4,1589.8 1297.6,1595.0 Z"/>
<rect x="930.7" y="1580.9" width="9.4" height="7.3"/><rect x="948.5" y="1580.9" width="9.4" height="7.3"/><rect x="966.4" y="1580.9" width="9.4" height="7.3"/><rect x="984.2" y="1580.9" width="9.4" height="7.3"/><rect x="1002.1" y="1580.9" width="9.4" height="7.3"/><rect x="1020.0" y="1580.9" width="9.4" height="7.3"/><rect x="1037.8" y="1580.9" width="9.4" height="7.3"/><rect x="1055.6" y="1580.9" width="8.2" height="7.3"/>
<path d="M900.0,1584.6 L919.0,1574.3 Q916.2,1579.4 916.0,1584.6 Q916.2,1589.8 919.0,1594.9 Z"/><rect x="916.0" y="1580.9" width="6.3" height="7.3"/>
<rect x="553.1" y="1580.9" width="9.3" height="7.3"/><rect x="570.9" y="1580.9" width="9.3" height="7.3"/><rect x="588.8" y="1580.9" width="9.3" height="7.3"/><rect x="606.6" y="1580.9" width="9.3" height="7.3"/><rect x="624.5" y="1580.9" width="9.3" height="7.3"/><rect x="642.3" y="1580.9" width="9.3" height="7.3"/><rect x="660.2" y="1580.9" width="9.3" height="7.3"/><rect x="678.0" y="1580.9" width="9.3" height="7.3"/>
<path d="M522.1,1584.6 L541.1,1574.3 Q538.4,1579.4 538.1,1584.6 Q538.4,1589.8 541.1,1594.9 Z"/><rect x="538.1" y="1580.9" width="6.5" height="7.3"/>
<rect x="784.8" y="1679.1" width="7.1" height="9.0"/><rect x="784.8" y="1696.9" width="7.1" height="9.0"/><rect x="784.8" y="1714.8" width="7.1" height="9.0"/><rect x="784.8" y="1732.6" width="7.1" height="9.0"/><rect x="784.8" y="1750.4" width="7.1" height="9.0"/>
<path d="M788.4,1790.0 L777.8,1771.0 Q783.0,1774.2 788.4,1775.0 Q793.7,1774.2 799.0,1771.0 Z"/><rect x="784.8" y="1768.2" width="7.1" height="6.8"/></g>
<g id="combiner" fill="#fff">
  <!-- zoom coords from [950,1000] factor 2.705 -->
  <g transform="translate(950,1000) scale(0.36969)">
    <path d="M148,148 L148,134 L162,115 L350,115 L357,121 L357,136 L348,148 L348,356 L326,378 L182,378 Q160,378 160,356 L160,148 Z"/>
    <rect x="241.5" y="370" width="37" height="340"/>
    <path d="M215,730 Q215,700 243,698 L280,698 Q300,700 302,730 Z"/>
    <ellipse cx="260" cy="765" rx="97" ry="45"/>
  </g>
</g>

<defs><clipPath id="invClip"><circle cx="782" cy="812" r="628"/></clipPath>
<clipPath id="magClip"><circle cx="975" cy="475" r="300"/></clipPath></defs>
<g id="inverter" transform="translate(1280,1130) scale(0.13556)">
  <circle cx="785" cy="810" r="725" fill="#468435"/>
  <circle cx="782" cy="812" r="628" fill="#b3b3b3"/>
  <g clip-path="url(#invClip)">
    <!-- side tabs -->
    <rect x="318" y="418" width="50" height="185" rx="18" fill="#cfcfcf"/>
    <rect x="318" y="1008" width="50" height="225" rx="18" fill="#cfcfcf"/>
    <rect x="1190" y="748" width="50" height="124" rx="18" fill="#c6c6c6"/>
    <rect x="1190" y="988" width="50" height="225" rx="18" fill="#c6c6c6"/>
    <!-- bottom bits -->
    <rect x="430" y="1290" width="120" height="50" fill="#ebebeb"/>
    <rect x="585" y="1290" width="105" height="50" fill="#c9c9c9"/>
    <rect x="725" y="1290" width="115" height="50" fill="#ebebeb"/>
    <path d="M470,1352 L522,1352 L490,1384 Z" fill="#2d2d30"/>
    <path d="M615,1352 L662,1352 L662,1440 L640,1440 Z" fill="#d5d5d5"/>
    <path d="M615,1352 L662,1352 L630,1390 Z" fill="#9a9a9a"/>
    <path d="M760,1340 L812,1340 L812,1450 L760,1450 Z" fill="#e5e5e5"/>
    <path d="M756,1352 L812,1352 L770,1410 Z" fill="#2d2d30"/>
    <circle cx="940" cy="1305" r="36" fill="#fff"/>
    <circle cx="1050" cy="1305" r="36" fill="#fff"/>
  </g>
  <rect x="355" y="318" width="845" height="980" fill="#fff"/>
  <rect x="403" y="365" width="745" height="867" rx="30" fill="none" stroke="#c8c8c8" stroke-width="7"/>
  <rect x="938" y="825" width="167" height="55" rx="22" fill="#c6c6c6"/>
  <!-- magnifier -->
  <circle cx="975" cy="475" r="335" fill="#b3b3b3"/>
  <circle cx="975" cy="475" r="272" fill="#f4f4f4"/>
  <g clip-path="url(#magClip)">
    <path d="M875,462 V250 H1045 V330" fill="none" stroke="#b3b3b3" stroke-width="40"/>
    <rect x="975" y="320" width="223" height="282" fill="#c4c4c4"/>
    <rect x="690" y="462" width="285" height="28" fill="#fff"/>
    <g fill="#c9c9c9">
      <rect x="727" y="492" width="46" height="86" rx="20"/><rect x="785" y="492" width="46" height="86" rx="20"/><rect x="843" y="492" width="46" height="86" rx="20"/><rect x="901" y="492" width="46" height="86" rx="20"/>
      <rect x="727" y="592" width="46" height="86" rx="20"/><rect x="785" y="592" width="46" height="86" rx="20"/><rect x="843" y="592" width="46" height="86" rx="20"/><rect x="901" y="592" width="46" height="86" rx="20"/>
    </g>
    <g fill="#fff">
      <ellipse cx="750" cy="525" rx="11" ry="14"/><ellipse cx="808" cy="525" rx="11" ry="14"/><ellipse cx="866" cy="525" rx="11" ry="14"/><ellipse cx="924" cy="525" rx="11" ry="14"/>
      <ellipse cx="750" cy="622" rx="11" ry="14"/><ellipse cx="808" cy="622" rx="11" ry="14"/><ellipse cx="866" cy="622" rx="11" ry="14"/><ellipse cx="924" cy="622" rx="11" ry="14"/>
    </g>
  </g>
  <circle cx="975" cy="475" r="303" fill="none" stroke="#b3b3b3" stroke-width="64"/>
</g>

<g id="cabinet" transform="translate(1070,1450) scale(0.12695)">
  <rect x="117" y="322" width="100" height="1056" rx="38" fill="#c6c6c6"/>
  <rect x="1285" y="322" width="100" height="1056" rx="38" fill="#c6c6c6"/>
  <rect x="262" y="1840" width="975" height="110" fill="#c9c9c9"/>
  <path d="M262,1845 L1237,1845 L1237,1878 L262,1950 Z" fill="#929292"/>
  <rect x="193" y="158" width="1114" height="1692" fill="#fff"/>
  <rect x="193" y="1680" width="1114" height="170" fill="#c6c6c6"/>
  <rect x="237" y="197" width="1016" height="1205" fill="#c6c6c6"/>
  <rect x="293" y="253" width="432" height="1094" fill="#fff"/>
  <rect x="785" y="253" width="412" height="1094" fill="#fff"/>
  <rect x="720" y="470" width="70" height="223" fill="#fff"/>
  <rect x="630" y="497" width="250" height="168" rx="26" fill="#c6c6c6"/>
  <rect x="647" y="520" width="218" height="60" rx="20" fill="#fff"/>
  <g fill="#f1f1f1"><rect x="765" y="597" width="100" height="12"/><rect x="765" y="618" width="100" height="12"/><rect x="765" y="639" width="100" height="12"/></g>
  <rect x="590" y="1093" width="48" height="120" fill="#c6c6c6"/>
  <path d="M590,1210 L638,1210 L598,1347 L590,1347 Z" fill="#dadada"/>
  <rect x="873" y="1093" width="48" height="120" fill="#c6c6c6"/>
  <path d="M873,1210 L921,1210 L878,1347 L870,1347 Z" fill="#dadada"/>
</g>

<defs><clipPath id="ctlClip"><circle cx="798" cy="801" r="663"/></clipPath>
<path id="hexb" d="M-40,0 L-20,-35 L20,-35 L40,0 L20,35 L-20,35 Z"/></defs>
<g id="controller" transform="translate(690,1480) scale(0.12323)">
  <circle cx="797" cy="800" r="767" fill="#468435"/>
  <circle cx="798" cy="801" r="663" fill="#b3b3b3"/>
  <g clip-path="url(#ctlClip)">
    <polygon points="250,545 1345,1140 745,1740 -350,1145" fill="#a3a3a3"/>
    <g fill="none" stroke="#fff" stroke-width="34">
      <path d="M555,1120 V1290 Q555,1365 630,1365 H1400"/>
      <path d="M728,1120 V1215 Q728,1290 803,1290 H1400"/>
      <path d="M920,1120 V1145 Q920,1222 1000,1222 H1500"/>
    </g>
  </g>
  <rect x="247" y="543" width="1098" height="600" rx="32" fill="#fff"/>
  <g fill="#e2e2e2"><path d="M485,1098 H612 L596,1132 H501 Z"/><path d="M667,1098 H800 L784,1132 H683 Z"/><path d="M855,1098 H987 L971,1132 H871 Z"/></g>
  <rect x="360" y="498" width="868" height="602" rx="135" fill="#c6c6c6"/><rect x="405" y="550" width="778" height="526" rx="95" fill="#fff"/>
  <path d="M481,610 H930 Q965,606 990,585 A90,90 0 1 1 990,711 Q965,688 930,684 H481 A37,37 0 0 1 481,610 Z" fill="#b3b3b3"/>
  <circle cx="1052" cy="648" r="58" fill="#dedede"/>
  <circle cx="692" cy="647" r="27" fill="#fff"/><circle cx="792" cy="647" r="27" fill="#fff"/><circle cx="893" cy="647" r="27" fill="#fff"/>
  <g fill="#b3b3b3"><circle cx="600" cy="980" r="36"/><circle cx="733" cy="980" r="36"/><circle cx="858" cy="980" r="36"/><circle cx="988" cy="980" r="36"/></g>
  <g fill="#dedede"><use href="#hexb" x="305" y="645"/><use href="#hexb" x="1283" y="645"/><use href="#hexb" x="305" y="1045"/><use href="#hexb" x="1283" y="1045"/></g>
  <g stroke="#b3b3b3" stroke-width="8" fill="none"><path d="M514,1050 H548 M531,1033 V1067"/><path d="M791,1050 H825 M808,1033 V1067"/></g>
  <path d="M650,1050 H686" stroke="#b5d0ae" stroke-width="8"/>
  <rect x="572" y="1038" width="53" height="42" fill="#d8d8d8"/><rect x="850" y="1038" width="50" height="42" fill="#d8d8d8"/>
</g>

<defs><clipPath id="mtrBody"><path d="M158,192 H1130 V1225 Q1130,1282 1073,1282 H270 Q158,1282 158,1200 Z"/></clipPath></defs>
<g id="meter" transform="translate(360,1455) scale(0.12695)">
  <rect x="530" y="1275" width="260" height="80" fill="#a3a3a3"/>
  <rect x="598" y="1350" width="124" height="580" fill="#b5b5b5"/>
  <rect x="517" y="1607" width="295" height="58" fill="#c6c6c6"/>
  <g fill="#fff"><circle cx="540" cy="1560" r="33"/><rect x="580" y="1527" width="168" height="66" rx="33"/><circle cx="790" cy="1560" r="33"/></g>
  <rect x="170" y="1922" width="990" height="23" fill="#fff"/>
  <g clip-path="url(#mtrBody)">
    <rect x="150" y="190" width="1000" height="1100" fill="#fff"/>
    <polygon points="222,595 700,507 700,955 222,1040" fill="#ebebeb"/>
    <rect x="150" y="190" width="72" height="1100" fill="#c6c6c6"/>
    <rect x="150" y="190" width="1000" height="48" fill="#c6c6c6"/>
    <path d="M222,1100 V1225 Q222,1282 279,1282 H150 V1100 Z" fill="#c6c6c6"/>
  </g>
  <rect x="120" y="118" width="1047" height="74" fill="#fff"/>
  <rect x="120" y="118" width="60" height="74" fill="#c6c6c6"/>
  <circle cx="670" cy="680" r="262" fill="#a6a6a6"/>
  <circle cx="705" cy="705" r="265" fill="#c6c6c6"/>
  <circle cx="705" cy="705" r="225" fill="#fff"/>
  <path d="M545,658 A160,155 0 0 1 865,658 Z" fill="#c6c6c6"/>
  <rect x="628" y="650" width="240" height="38" rx="8" fill="#c6c6c6"/>
  <rect x="610" y="555" width="190" height="85" rx="26" fill="#fff"/>
  <path d="M530,706 H778 L790,732 H878 A174,170 0 0 1 532,732 Z" fill="#c6c6c6"/>
  <rect x="585" y="740" width="150" height="50" rx="25" fill="#a6a6a6"/>
  <rect x="645" y="810" width="90" height="40" rx="20" fill="#a6a6a6"/>
  <circle cx="780" cy="770" r="22" fill="#fff"/><circle cx="775" cy="828" r="17" fill="#fff"/>
</g>

<defs>
<g id="batt">
  <rect x="310" y="190" width="262" height="50" fill="#858585"/><rect x="762" y="190" width="258" height="50" fill="#858585"/>
  <rect x="352" y="122" width="180" height="70" rx="35" fill="#fff"/><rect x="800" y="122" width="180" height="70" rx="35" fill="#fff"/>
  <rect x="1490" y="1115" width="43" height="107" fill="#a3a3a3"/>
  <rect x="1182" y="237" width="313" height="1050" fill="#a3a3a3"/>
  <polygon points="1182,237 1285,237 1435,1287 1182,1287" fill="#858585"/>
  <rect x="178" y="237" width="1004" height="1050" fill="#fff"/>
  <rect x="250" y="305" width="858" height="910" fill="#e0e0e0"/>
  <rect x="247" y="305" width="391" height="105" fill="#a3a3a3"/><rect x="715" y="305" width="393" height="105" fill="#a3a3a3"/>
  <rect x="242" y="1110" width="875" height="108" fill="#a3a3a3"/>
  <circle cx="663" cy="780" r="245" fill="none" stroke="#b3b3b3" stroke-width="30"/>
  <polygon points="605,615 790,615 712,770 800,770 525,1055 650,822 520,822" fill="#fff"/>
</g>
</defs>
<g id="batteries">
  <g transform="translate(540,1795) scale(0.110905)"><use href="#batt"/></g>
  <g transform="translate(719.8,1795) scale(0.110905)"><use href="#batt"/></g>
  <g transform="translate(915.2,1795) scale(0.110905)"><use href="#batt"/></g>
  <rect x="522" y="1937" width="599.5" height="6.2" fill="#fff"/>
</g>

</svg>
</body></html>
